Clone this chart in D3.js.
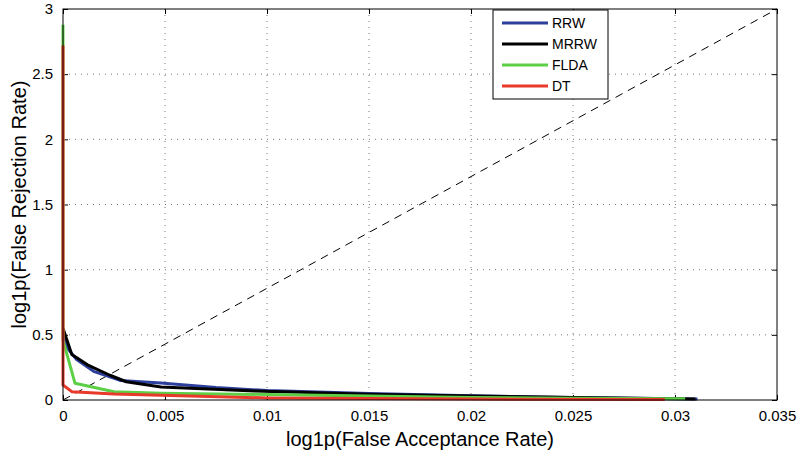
<!DOCTYPE html>
<html>
<head>
<script src="https://d3js.org/d3.v7.min.js"></script>
<style>
  body { margin: 0; background: #fff; }
  svg text { font-family: "Liberation Sans", Arial, sans-serif; fill: #000; }
</style>
</head>
<body>
<div id="chart"></div>
<script>
// values
const rrwX  = [0, 0.0002, 0.00067, 0.0015, 0.0028, 0.0048, 0.0075, 0.01, 0.015, 0.02, 0.025, 0.0311];
const rrwY  = [0.52, 0.40, 0.31, 0.22, 0.15, 0.13, 0.095, 0.072, 0.05, 0.032, 0.02, 0.008];
const mrrwX = [0, 0.00043, 0.0012, 0.0023, 0.0031, 0.0048, 0.0094, 0.015, 0.02, 0.025, 0.031];
const mrrwY = [0.55, 0.35, 0.27, 0.19, 0.14, 0.10, 0.07, 0.045, 0.03, 0.02, 0.008];
const fldaX = [0, 0, 0.00059, 0.0025, 0.0048, 0.01, 0.015, 0.02, 0.025, 0.0305];
const fldaY = [2.88, 0.46, 0.128, 0.064, 0.052, 0.042, 0.03, 0.02, 0.014, 0.009];
const dtX   = [0, 0, 0.00043, 0.0025, 0.0048, 0.01, 0.02, 0.0295];
const dtY   = [2.72, 0.115, 0.064, 0.046, 0.036, 0.016, 0.007, 0.003];

const seriesNames  = ["RRW", "MRRW", "FLDA", "DT"];
const seriesColors = ["#2d3f9c", "#000000", "#5ccf46", "#e8392a"];
const xTicks = [0, 0.005, 0.01, 0.015, 0.02, 0.025, 0.03, 0.035];
const yTicks = [0, 0.5, 1, 1.5, 2, 2.5, 3];

const series = [
  { name: "RRW",  xs: rrwX,  ys: rrwY },
  { name: "MRRW", xs: mrrwX, ys: mrrwY },
  { name: "FLDA", xs: fldaX, ys: fldaY },
  { name: "DT",   xs: dtX,   ys: dtY }
];

const W = 800, H = 456;
const margin = { top: 9, right: 23, bottom: 56, left: 63 };
const width = W - margin.left - margin.right,
      height = H - margin.top - margin.bottom;

const svg = d3.select("#chart").append("svg")
    .attr("width", W).attr("height", H);
const g = svg.append("g")
    .attr("transform", `translate(${margin.left},${margin.top})`);

const x = d3.scaleLinear().domain([0, 0.035]).range([0, width]);
const y = d3.scaleLinear().domain([0, 3]).range([height, 0]);
const color = d3.scaleOrdinal().domain(seriesNames).range(seriesColors);

// dotted grid
g.append("g").selectAll("line").data(xTicks.slice(1, -1)).join("line")
    .attr("x1", d => x(d)).attr("x2", d => x(d))
    .attr("y1", 0).attr("y2", height)
    .attr("stroke", "#777").attr("stroke-width", 1).attr("stroke-dasharray", "1,5");
g.append("g").selectAll("line").data(yTicks.slice(1, -1)).join("line")
    .attr("x1", 0).attr("x2", width)
    .attr("y1", d => y(d)).attr("y2", d => y(d))
    .attr("stroke", "#777").attr("stroke-width", 1).attr("stroke-dasharray", "1,5");

// diagonal reference
g.append("line")
    .attr("x1", x(0)).attr("y1", y(0))
    .attr("x2", x(0.035)).attr("y2", y(3))
    .attr("stroke", "#000").attr("stroke-width", 1).attr("stroke-dasharray", "8,6");

// axes, matlab style: ticks inside on all sides
const xb = g.append("g").attr("transform", `translate(0,${height})`)
    .call(d3.axisBottom(x).tickValues(xTicks).tickSizeInner(-5).tickSizeOuter(0)
      .tickPadding(10).tickFormat(d => d === 0 ? "0" : String(+d.toFixed(3))));
const yl = g.append("g")
    .call(d3.axisLeft(y).tickValues(yTicks).tickSizeInner(-5).tickSizeOuter(0)
      .tickPadding(10).tickFormat(d => String(d)));
g.append("g")
    .call(d3.axisTop(x).tickValues(xTicks).tickSizeInner(-5).tickSizeOuter(0).tickFormat(""));
g.append("g").attr("transform", `translate(${width},0)`)
    .call(d3.axisRight(y).tickValues(yTicks).tickSizeInner(-5).tickSizeOuter(0).tickFormat(""));
g.selectAll(".domain").remove();
g.selectAll(".tick line").attr("stroke", "#000");
xb.selectAll("text").style("font-size", "15px");
yl.selectAll("text").style("font-size", "15px");

// curves
const line = d3.line().x(d => x(d[0])).y(d => y(d[1]));
g.append("g").selectAll("path").data(series).join("path")
    .attr("d", s => line(s.xs.map((v, i) => [v, s.ys[i]])))
    .attr("fill", "none")
    .attr("stroke", s => color(s.name))
    .attr("stroke-width", 3)
    .attr("stroke-linejoin", "round");

// box
g.append("rect").attr("x", 0).attr("y", 0).attr("width", width).attr("height", height)
    .attr("fill", "none").attr("stroke", "#000").attr("stroke-width", 1);

// legend
const lg = svg.append("g").attr("transform", "translate(493,10)");
lg.append("rect").attr("width", 115).attr("height", 89)
    .attr("fill", "#fff").attr("stroke", "#000").attr("stroke-width", 1);
const item = lg.selectAll(".legend").data(seriesNames).join("g")
    .attr("class", "legend")
    .attr("transform", (d, i) => `translate(0,${13 + i * 21})`);
item.append("line").attr("x1", 9).attr("x2", 55).attr("y1", 0).attr("y2", 0)
    .attr("stroke", d => color(d)).attr("stroke-width", 3);
item.append("text").attr("x", 59).attr("y", 0).attr("dy", "0.35em")
    .style("font-size", "14px").text(d => d);

// axis titles
svg.append("text").attr("x", margin.left + width / 2 + 0).attr("y", 446)
    .attr("text-anchor", "middle").style("font-size", "20px")
    .text("log1p(False Acceptance Rate)");
svg.append("text")
    .attr("transform", `translate(26,${margin.top + height / 2}) rotate(-90)`)
    .attr("text-anchor", "middle").style("font-size", "20px")
    .text("log1p(False Rejection Rate)");
</script>
</body>
</html>
